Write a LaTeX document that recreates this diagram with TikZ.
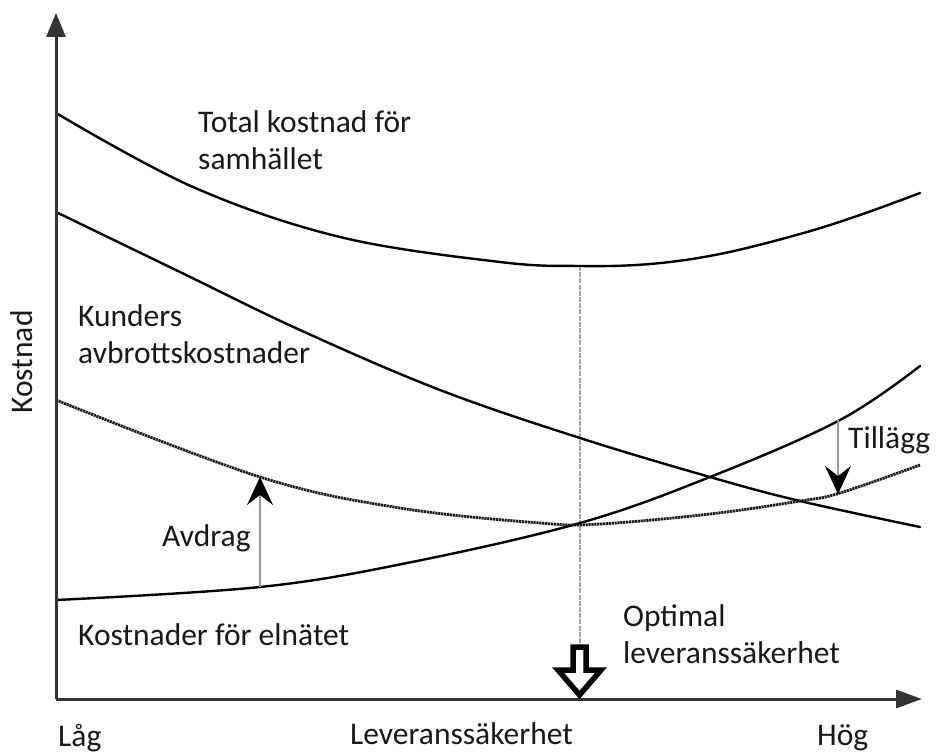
\documentclass[tikz,border=0pt]{standalone}
\usepackage{fontspec}
\setmainfont{Carlito}
\usetikzlibrary{arrows.meta}
\begin{document}
\begin{tikzpicture}[x=1pt,y=-1pt,
  lbl/.style={font=\fontsize{31.5}{37}\selectfont, text=black!90, inner sep=0pt, align=left, anchor=base west},
  curve/.style={line width=2.4pt, black, line cap=round},
  dotcurve/.style={line width=2.8pt, black!90, dash pattern=on 2.2pt off 0.7pt},
  axis/.style={line width=3pt, black!80},
  guide/.style={line width=1.6pt, black!35, dash pattern=on 5pt off 1.2pt},
  thinarrow/.style={line width=1.8pt, black!40, -{Stealth[black,length=28pt,width=26pt,inset=10pt]}}]
\useasboundingbox (0,0) rectangle (936,754);
\fill[white] (0,0) rectangle (936,754);

% coordinates
\coordinate (O) at (56,699);
\coordinate (ytip) at (56,13);
\coordinate (xtip) at (922,699);
\coordinate (opttop) at (580,266);
\coordinate (optbot) at (580,646);
\coordinate (avdA) at (260,587);
\coordinate (avdB) at (260,477);
\coordinate (tilA) at (838,420);
\coordinate (tilB) at (838,494);

% guide line at optimum
\draw[guide] (opttop) -- (optbot);

% curves
\draw[curve] plot[smooth, tension=0.6] coordinates {(56,113) (193,187) (340,237) (500,262) (580,266) (650,264) (720,254) (800,234) (860,215) (920,193)};
\draw[curve] plot[smooth, tension=0.6] coordinates {(56,212) (180,272) (300,330) (440,390) (580,438) (710,477) (800,501) (920,527)};
\draw[curve] plot[smooth, tension=0.6] coordinates {(56,600) (260,587) (407,563) (580,523) (710,477) (840,420) (920,366)};
\draw[dotcurve] plot[smooth, tension=0.6] coordinates {(56,400) (260,477) (400,508) (540,523) (600,524) (710,514) (800,501) (840,493) (920,465)};

% Avdrag / Tillägg arrows
\draw[thinarrow] (avdA) -- (avdB);
\draw[thinarrow] (tilA) -- (tilB);

% axes
\draw[axis, -{Triangle[length=24pt,width=19pt]}] (O) -- (ytip);
\draw[axis, -{Triangle[length=26pt,width=18pt]}] (O) -- (xtip);

% fat hollow arrow
\draw[line width=5.5pt, draw=black, fill=white, line join=miter] (573,647) -- (586,647) -- (586,670) -- (601,670) -- (579.5,695) -- (558,670) -- (573,670) -- cycle;

% labels
\node[lbl] (total) at (198,170) {Total kostnad för\\samhället};
\node[lbl] (kund) at (78,363) {Kunders\\avbrottskostnader};
\node[lbl] (til) at (848,448) {Tillägg};
\node[lbl] (avd) at (162,546) {Avdrag};
\node[lbl] (eln) at (78,645) {Kostnader för elnätet};
\node[lbl] (opt) at (623,663) {Optimal\\leveranssäkerhet};
\node[lbl] (lag) at (58,746) {Låg};
\node[lbl] (lev) at (350,744) {Leveranssäkerhet};
\node[lbl] (hog) at (817,745) {Hög};
\node[font=\fontsize{31.5}{37}\selectfont, text=black!90, inner sep=0pt, rotate=90] (kost) at (22,362) {Kostnad};
\end{tikzpicture}
\end{document}
